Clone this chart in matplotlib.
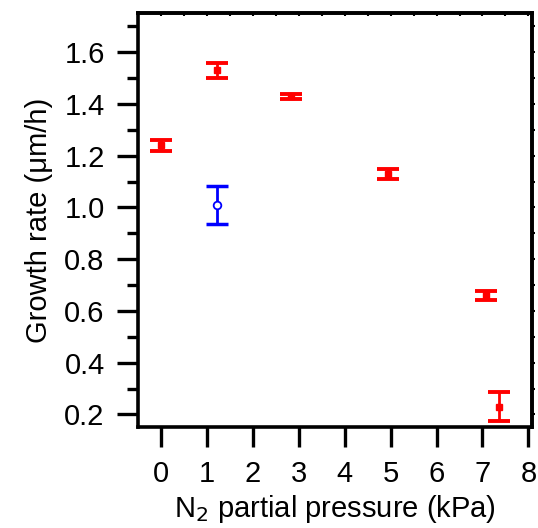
import matplotlib.pyplot as plt
from matplotlib.ticker import MultipleLocator

plt.rcParams['font.family'] = ['Liberation Sans', 'DejaVu Sans']

# red series: N2 partial pressure (kPa), growth rate (um/h), error
red_x = [0.0, 1.22, 2.83, 4.95, 7.08, 7.36]
red_y = [1.24, 1.53, 1.43, 1.13, 0.66, 0.23]
red_err = [0.02, 0.03, 0.01, 0.02, 0.016, 0.055]

# blue point
blue_x = [1.22]
blue_y = [1.01]
blue_err = [0.072]

fig = plt.figure(figsize=(5.38, 5.28), dpi=100)
ax = fig.add_axes([0.2565, 0.191, 0.7325, 0.7845])

ax.errorbar(red_x, red_y, yerr=red_err, fmt='s', color='red', ms=4.5,
            elinewidth=2, capsize=8, capthick=2.8, zorder=3)
ax.errorbar(blue_x, blue_y, yerr=blue_err, fmt='none', ecolor='blue',
            elinewidth=2, capsize=8, capthick=2.5, zorder=3)
ax.plot(blue_x, blue_y, 'o', color='blue', mfc='white', ms=5.5, mew=1.3, zorder=4)

ax.set_xlim(-0.5, 8.08)
ax.set_ylim(0.151, 1.752)
ax.xaxis.set_major_locator(MultipleLocator(1))
ax.yaxis.set_major_locator(MultipleLocator(0.2))
ax.yaxis.set_minor_locator(MultipleLocator(0.1))
ax.yaxis.set_major_formatter(plt.FuncFormatter(lambda v, p: f'{v:.1f}'))

for s in ax.spines.values():
    s.set_linewidth(2.6)

ax.tick_params(axis='x', which='major', direction='out', length=14.5, width=2.4,
               pad=9, labelsize=21)
ax.tick_params(axis='y', which='major', direction='out', length=15, width=2.4,
               pad=9, labelsize=21)
ax.tick_params(axis='y', which='minor', direction='out', length=8, width=2.4)

# tiny mirrored ticks on top and right
top = ax.secondary_xaxis('top')
top.xaxis.set_major_locator(MultipleLocator(0.5))
top.tick_params(direction='in', length=2, width=1.5, labeltop=False)
right = ax.secondary_yaxis('right')
right.yaxis.set_major_locator(MultipleLocator(0.1))
right.tick_params(direction='out', length=2, width=1.5, labelright=False)
for sec in (top, right):
    for s in sec.spines.values():
        s.set_linewidth(2.6)

ax.set_xlabel('N$_2$ partial pressure (kPa)', fontsize=21, labelpad=4)
ax.set_ylabel('Growth rate (\u03bcm/h)', fontsize=21, labelpad=8)

fig.savefig('out.png', dpi=100)
